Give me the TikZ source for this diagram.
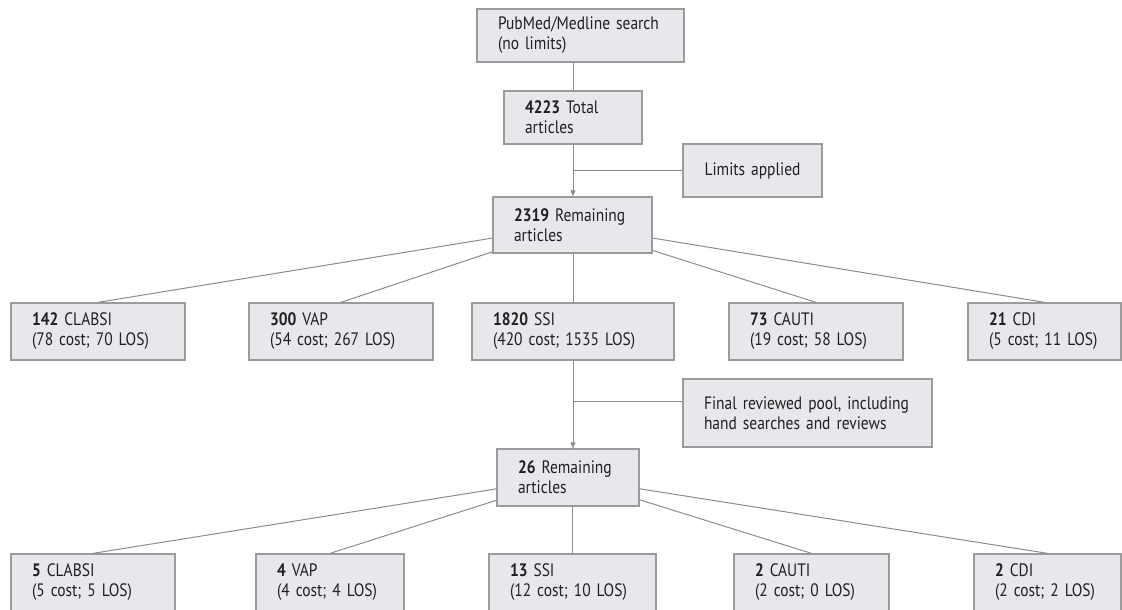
\documentclass[tikz,border=0pt]{standalone}
\usepackage{fontspec}
\setmainfont{PT Sans}[FakeStretch=0.86]
\usetikzlibrary{arrows.meta,calc}
\hyphenpenalty=10000
\exhyphenpenalty=10000
\definecolor{boxfill}{HTML}{E6E8EC}
\definecolor{boxline}{HTML}{9B9B9B}
\definecolor{conline}{HTML}{8C8C8C}
\definecolor{txt}{HTML}{231F20}
\tikzset{
  box/.style={draw=boxline,fill=boxfill,line width=1.3pt,align=left,inner xsep=21pt,inner ysep=0pt,text=txt,font=\fontsize{18}{20}\selectfont},
  con/.style={draw=conline,line width=1pt},
  arr/.style={con,-{Triangle[length=6pt,width=5pt]}}
}
\begin{document}
\begin{tikzpicture}[x=1pt,y=-1pt]
\useasboundingbox(0,0)rectangle(1122,610);
% search and limits
\node[box,text width=165pt,minimum height=53pt](src)at(580.5,35.5){PubMed/Medline search\\(no limits)};
\node[box,text width=96pt,minimum height=53pt](tot)at(573,117.5){\textbf{4223} Total\\articles};
\node[box,text width=97pt,minimum height=53pt,align=center](lim)at(752.5,170.5){Limits applied};
\node[box,text width=117pt,minimum height=56pt](rema)at(572.5,225){\textbf{2319} Remaining\\articles};
% first split
\node[box,text width=132pt,minimum height=57pt](clabsia)at(98,331.5){\textbf{142} CLABSI\\(78 cost; 70 LOS)};
\node[box,text width=142pt,minimum height=57pt](vapa)at(341,331.5){\textbf{300} VAP\\(54 cost; 267 LOS)};
\node[box,text width=160pt,minimum height=57pt](ssia)at(573,331.5){\textbf{1820} SSI\\(420 cost; 1535 LOS)};
\node[box,text width=132pt,minimum height=57pt](cautia)at(816,331.5){\textbf{73} CAUTI\\(19 cost; 58 LOS)};
\node[box,text width=111pt,minimum height=57pt](cdia)at(1044.5,331.5){\textbf{21} CDI\\(5 cost; 11 LOS)};
% final pool
\node[box,text width=207pt,minimum height=68pt](pool)at(807.5,413){Final reviewed pool, including\\hand searches and reviews};
\node[box,text width=100pt,minimum height=57pt](remb)at(568,477.5){\textbf{26} Remaining\\articles};
% second split
\node[box,text width=122pt,minimum height=57pt](clabsib)at(93,582.5){\textbf{5} CLABSI\\(5 cost; 5 LOS)};
\node[box,text width=106pt,minimum height=57pt](vapb)at(330,582.5){\textbf{4} VAP\\(4 cost; 4 LOS)};
\node[box,text width=125pt,minimum height=57pt](ssib)at(572.5,582.5){\textbf{13} SSI\\(12 cost; 10 LOS)};
\node[box,text width=113pt,minimum height=57pt](cautib)at(811.5,582.5){\textbf{2} CAUTI\\(2 cost; 0 LOS)};
\node[box,text width=105pt,minimum height=57pt](cdib)at(1047.5,582.5){\textbf{2} CDI\\(2 cost; 2 LOS)};
% connectors
\draw[con](tot.north|-src.south)--(tot.north);
\draw[arr](tot.south)--(tot.south|-rema.north);
\coordinate(limj)at(tot.south|-lim.west);
\draw[con](limj)--(lim.west);
\foreach \n in {clabsia,vapa,cautia,cdia}\draw[con](rema)--(\n.north);
\draw[con](ssia.north|-rema.south)--(ssia.north);
\draw[arr](ssia.south)--(ssia.south|-remb.north);
\coordinate(poolj)at($(ssia.south|-pool.west)+(0,-12)$);
\draw[con](poolj)--(poolj-|pool.west);
\foreach \n in {clabsib,vapb,cautib,cdib}\draw[con](remb)--(\n.north);
\draw[con](ssib.north|-remb.south)--(ssib.north);
\end{tikzpicture}
\end{document}
